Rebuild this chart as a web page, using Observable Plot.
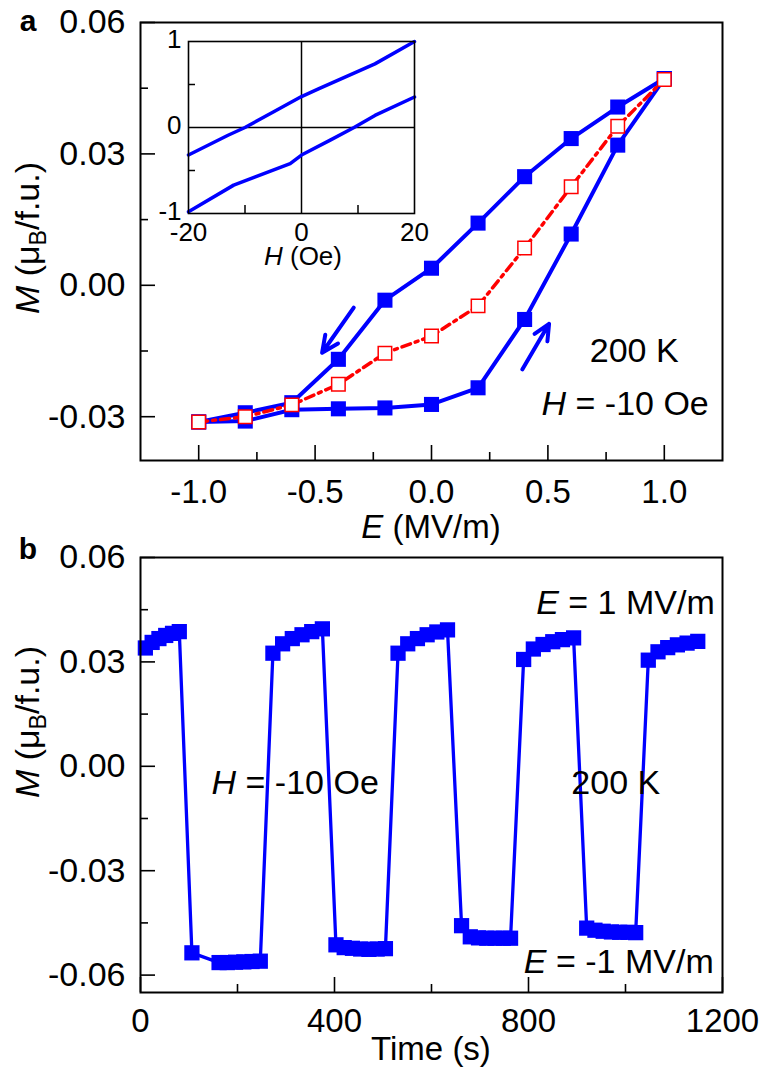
<!DOCTYPE html>
<html><head><meta charset="utf-8">
<script src="https://cdn.jsdelivr.net/npm/d3@7"></script>
<script src="https://cdn.jsdelivr.net/npm/@observablehq/plot@0.6"></script>
<style>
body{margin:0;background:#fff;}
#wrap{position:relative;width:767px;height:1079px;overflow:hidden;}
#wrap svg{position:absolute;}
</style></head><body><div id="wrap"></div>
<script>
// ---------- Panel a data ----------
const eSweep = [-1.0, -0.8, -0.6, -0.4, -0.2, 0.0, 0.2, 0.4, 0.6, 0.8, 1.0];
const mDown  = [-0.0312, -0.0291, -0.0268, -0.0169, -0.0034, 0.0039, 0.0142, 0.0248, 0.0335, 0.0407, 0.0472];
const mUp    = [-0.0312, -0.0310, -0.0284, -0.0282, -0.0280, -0.0272, -0.0234, -0.0078, 0.0117, 0.0320, 0.0472];
const mVirgin= [-0.0312, -0.0300, -0.0273, -0.0226, -0.0155, -0.0116, -0.0047, 0.0085, 0.0225, 0.0363, 0.0470];
const aXMajor = [-1, -0.5, 0, 0.5, 1];
const aXMinor = [-0.75, -0.25, 0.25, 0.75];
const aYMajor = [-0.03, 0, 0.03, 0.06];
const aYMinor = [-0.015, 0.015, 0.045];
const arrowsA = [
  {x1: -0.334, y1: -0.0051, x2: -0.47, y2: -0.0154},
  {x1: 0.39, y1: -0.0192, x2: 0.505, y2: -0.0088}
];
const notesA = [
  {x: 0.873, y: -0.0150, parts: [["200 K", ""]]},
  {x: 0.834, y: -0.0271, parts: [["H", "italic"], [" = -10 Oe", ""]]}
];
// ---------- Inset data ----------
const hUpper = [-20, -13, -10, -5, 0, 3, 13, 20];
const mUpper = [-0.32, -0.09, 0.0, 0.18, 0.36, 0.45, 0.74, 1.0];
const hLower = [-20, -12, -2, 0, 5, 9.3, 13, 20];
const mLower = [-0.98, -0.67, -0.42, -0.32, -0.15, 0.0, 0.14, 0.355];
const insXLabels = [-20, 0, 20];
const insXMinor = [-10, 10];
const insYLabels = [-1, 0, 1];
const insYMinor = [-0.5, 0.5];
// ---------- Panel b data ----------
const timeB = [10, 24, 38, 52, 66, 80,
  106, 162, 179, 196, 213, 230, 247,
  273, 293, 313, 333, 353, 375,
  403, 420, 437, 454, 471, 488, 505,
  531, 551, 571, 591, 611, 633,
  662, 680, 697, 714, 731, 748, 763,
  790, 810, 830, 850, 870, 893,
  920, 937, 954, 971, 988, 1005, 1021,
  1047, 1067, 1087, 1107, 1127, 1149];
const magB = [0.0340, 0.0356, 0.0367, 0.0376, 0.0382, 0.0387,
  -0.0536, -0.0564, -0.0564, -0.0563, -0.0562, -0.0561, -0.0560,
  0.0325, 0.0352, 0.0367, 0.0378, 0.0387, 0.0395,
  -0.0513, -0.0521, -0.0523, -0.0525, -0.0526, -0.0525, -0.0524,
  0.0325, 0.0352, 0.0367, 0.0378, 0.0386, 0.0392,
  -0.0458, -0.0490, -0.0493, -0.0494, -0.0494, -0.0494, -0.0494,
  0.0307, 0.0337, 0.0350, 0.0358, 0.0364, 0.0369,
  -0.0465, -0.0471, -0.0474, -0.0476, -0.0477, -0.0477, -0.0478,
  0.0305, 0.0329, 0.0341, 0.0349, 0.0354, 0.0359];
const bXMajor = [0, 400, 800, 1200];
const bXMinor = [200, 600, 1000];
const bYMajor = [-0.06, -0.03, 0, 0.03, 0.06];
const bYMinor = [-0.045, -0.015, 0.015, 0.045];
const notesB = [
  {x: 1185, y: 0.0471, anchor: "end", parts: [["E", "italic"], [" = 1 MV/m", ""]]},
  {x: 1183, y: -0.0560, anchor: "end", parts: [["E", "italic"], [" = -1 MV/m", ""]]},
  {x: 320, y: -0.0047, anchor: "middle", parts: [["H", "italic"], [" = -10 Oe", ""]]},
  {x: 981, y: -0.0047, anchor: "middle", parts: [["200 K", ""]]}
];

// ---------- styling ----------
const FONT = "'Liberation Sans', Arial, Helvetica, sans-serif";
const FS = 34;
const TFS = 33;
const IFS = 26;
const BLUE = "#0000ff", RED = "#ff0000";
const W = 767;
const wrap = d3.select("#wrap");

function addText(svg, x, y, parts, opt = {}) {
  const size = opt.size || FS;
  const t = d3.select(svg).append("text")
    .attr("x", x).attr("y", y)
    .attr("dy", "0.35em")
    .attr("text-anchor", opt.anchor || "middle")
    .attr("font-family", FONT)
    .attr("font-size", size)
    .attr("font-weight", opt.weight || "normal")
    .attr("fill", "black");
  if (opt.rotate) t.attr("transform", `rotate(${opt.rotate},${x},${y})`);
  for (const [s, st] of parts) {
    const sp = t.append("tspan").text(s);
    if (st === "italic") sp.attr("font-style", "italic");
    if (st === "sub") sp.attr("font-size", size * 0.68).attr("dy", size * 0.22);
    if (st === "unsub") sp.attr("dy", -size * 0.22);
  }
  return t;
}

// ---------- Panel a ----------
const aH = 535, aMT = 22, aMB = 75, aML = 140, aMR = 45;
const aFH = aH - aMT - aMB, aFW = W - aML - aMR;
const ptsDown = eSweep.map((e, i) => ({e, m: mDown[i]}));
const ptsUp = eSweep.map((e, i) => ({e, m: mUp[i]}));
const ptsVir = eSweep.map((e, i) => ({e, m: mVirgin[i]}));
const plotA = Plot.plot({
  width: W, height: aH, marginTop: aMT, marginBottom: aMB, marginLeft: aML, marginRight: aMR,
  x: {domain: [-1.25, 1.25]},
  y: {domain: [-0.04, 0.06]},
  style: {fontFamily: FONT, fontSize: FS + "px", background: "transparent", overflow: "visible", color: "black"},
  marks: [
    Plot.axisX(aXMajor, {tickSize: 0, tickPadding: 19, tickFormat: d => d.toFixed(1), label: null, fontSize: TFS}),
    Plot.axisY(aYMajor, {tickSize: 0, tickPadding: 15, tickFormat: d => d.toFixed(2), label: null, fontSize: FS}),
    Plot.tickX(aXMajor, {x: d => d, insetTop: aFH - 15, stroke: "black", strokeWidth: 1.6}),
    Plot.tickX(aXMinor, {x: d => d, insetTop: aFH - 8, stroke: "black", strokeWidth: 1.6}),
    Plot.tickY(aYMajor, {y: d => d, insetRight: aFW - 15, stroke: "black", strokeWidth: 1.6}),
    Plot.tickY(aYMinor, {y: d => d, insetRight: aFW - 8, stroke: "black", strokeWidth: 1.6}),
    Plot.line(ptsDown, {x: "e", y: "m", stroke: BLUE, strokeWidth: 4}),
    Plot.line(ptsUp, {x: "e", y: "m", stroke: BLUE, strokeWidth: 4}),
    Plot.dot(ptsDown, {x: "e", y: "m", symbol: "square", r: 8.5, fill: BLUE}),
    Plot.dot(ptsUp, {x: "e", y: "m", symbol: "square", r: 8.5, fill: BLUE}),
    Plot.line(ptsVir, {x: "e", y: "m", stroke: RED, strokeWidth: 3.5, strokeDasharray: "9,5,3,5"}),
    Plot.dot(ptsVir, {x: "e", y: "m", symbol: "square", r: 7.6, fill: "white", stroke: RED, strokeWidth: 1.5}),
    Plot.arrow(arrowsA, {x1: "x1", y1: "y1", x2: "x2", y2: "y2", stroke: BLUE, strokeWidth: 4, headLength: 16, headAngle: 50}),
    Plot.frame({stroke: "black", strokeWidth: 2})
  ]
});
plotA.style.left = "0px"; plotA.style.top = "0px";
wrap.node().append(plotA);
{
  const sx = plotA.scale("x"), sy = plotA.scale("y");
  for (const n of notesA) addText(plotA, sx.apply(n.x), sy.apply(n.y), n.parts);
  addText(plotA, 431, 526, [["E", "italic"], [" (MV/m)", ""]], {size: TFS});
  addText(plotA, 27, 238, [["M", "italic"], [" (μ", ""], ["B", "sub"], ["/f.u.)", "unsub"]], {rotate: -90});
  addText(plotA, 28, 20, [["a", ""]], {weight: "bold", size: 30});
}

// ---------- Inset ----------
const iW = 300, iH = 250, iMT = 21, iMB = 57, iML = 48, iMR = 26;
const iFH = iH - iMT - iMB, iFW = iW - iML - iMR;
const inset = Plot.plot({
  width: iW, height: iH, marginTop: iMT, marginBottom: iMB, marginLeft: iML, marginRight: iMR,
  x: {domain: [-20, 20]}, y: {domain: [-1, 1]},
  style: {fontFamily: FONT, fontSize: IFS + "px", background: "transparent", overflow: "visible", color: "black"},
  marks: [
    Plot.ruleX([0], {stroke: "black", strokeWidth: 1.5}),
    Plot.ruleY([0], {stroke: "black", strokeWidth: 1.5}),
    Plot.tickX(insXMinor, {x: d => d, insetTop: iFH - 8, stroke: "black", strokeWidth: 1.5}),
    Plot.tickY(insYMinor, {y: d => d, insetRight: iFW - 7, stroke: "black", strokeWidth: 1.5}),
    Plot.line(hUpper.map((h, i) => ({h, m: mUpper[i]})), {x: "h", y: "m", stroke: BLUE, strokeWidth: 3.5}),
    Plot.line(hLower.map((h, i) => ({h, m: mLower[i]})), {x: "h", y: "m", stroke: BLUE, strokeWidth: 3.5}),
    Plot.axisX(insXLabels, {tickSize: 0, tickPadding: 9, tickFormat: d => String(d), label: null, fontSize: IFS}),
    Plot.axisY(insYLabels, {tickSize: 0, tickPadding: 7, dy: -2, tickFormat: d => String(d), label: null, fontSize: IFS}),
    Plot.frame({stroke: "black", strokeWidth: 1.6})
  ]
});
inset.style.left = "140px"; inset.style.top = "20px";
wrap.node().append(inset);
addText(inset, 163, 236, [["H", "italic"], [" (Oe)", ""]], {size: IFS});

// ---------- Panel b ----------
const bTop = 535;
const bH = 1079 - bTop, bMT = 22, bMB = 87, bML = 140, bMR = 45;
const bFH = bH - bMT - bMB, bFW = W - bML - bMR;
const ptsB = timeB.map((t, i) => ({t, m: magB[i]}));
const plotB = Plot.plot({
  width: W, height: bH, marginTop: bMT, marginBottom: bMB, marginLeft: bML, marginRight: bMR,
  x: {domain: [0, 1200]},
  y: {domain: [-0.065, 0.06]},
  style: {fontFamily: FONT, fontSize: FS + "px", background: "transparent", overflow: "visible", color: "black"},
  marks: [
    Plot.axisX(bXMajor, {tickSize: 0, tickPadding: 16, tickFormat: d => String(d), label: null, fontSize: TFS}),
    Plot.axisY(bYMajor, {tickSize: 0, tickPadding: 15, tickFormat: d => d.toFixed(2), label: null, fontSize: FS}),
    Plot.tickX(bXMajor, {x: d => d, insetTop: bFH - 15, stroke: "black", strokeWidth: 1.6}),
    Plot.tickX(bXMinor, {x: d => d, insetTop: bFH - 8, stroke: "black", strokeWidth: 1.6}),
    Plot.tickY(bYMajor, {y: d => d, insetRight: bFW - 15, stroke: "black", strokeWidth: 1.6}),
    Plot.tickY(bYMinor, {y: d => d, insetRight: bFW - 8, stroke: "black", strokeWidth: 1.6}),
    Plot.line(ptsB, {x: "t", y: "m", stroke: BLUE, strokeWidth: 3.3}),
    Plot.dot(ptsB, {x: "t", y: "m", symbol: "square", r: 8.6, fill: BLUE}),
    Plot.frame({stroke: "black", strokeWidth: 2})
  ]
});
plotB.style.left = "0px"; plotB.style.top = bTop + "px";
wrap.node().append(plotB);
{
  const sx = plotB.scale("x"), sy = plotB.scale("y");
  for (const n of notesB) addText(plotB, sx.apply(n.x), sy.apply(n.y), n.parts, {anchor: n.anchor});
  addText(plotB, 431, 1048 - bTop, [["Time (s)", ""]], {size: TFS});
  addText(plotB, 27, 722 - bTop, [["M", "italic"], [" (μ", ""], ["B", "sub"], ["/f.u.)", "unsub"]], {rotate: -90});
  addText(plotB, 28, 548 - bTop, [["b", ""]], {weight: "bold", size: 30});
}
</script></body></html>
